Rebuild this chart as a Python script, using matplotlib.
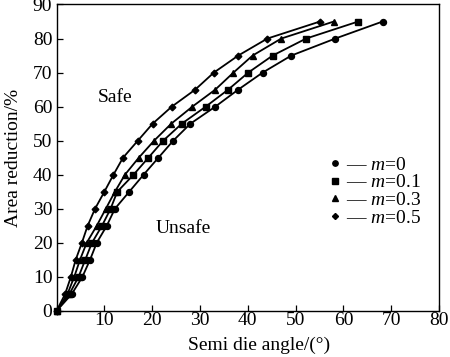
import matplotlib
matplotlib.use("Agg")
import matplotlib.pyplot as plt
from matplotlib.lines import Line2D

plt.rcParams['font.family'] = ['Liberation Serif', 'DejaVu Serif']
plt.rcParams['mathtext.fontset'] = 'custom'
plt.rcParams['mathtext.rm'] = 'Liberation Serif'
plt.rcParams['mathtext.it'] = 'Liberation Serif:italic'

# Data (semi die angle in degrees vs area reduction in %)
area_reduction = [0, 5, 10, 15, 20, 25, 30, 35, 40, 45, 50, 55, 60, 65, 70, 75, 80, 85]
angle_m0 = [0, 3.2, 5.4, 7.0, 8.4, 10.5, 12.2, 15.2, 18.2, 21.3, 24.4, 28.0, 33.2, 38.0, 43.1, 49.1, 58.3, 68.2]
angle_m01 = [0, 2.7, 4.6, 6.0, 7.4, 9.5, 11.3, 12.7, 16.1, 19.2, 22.3, 26.2, 31.2, 35.9, 40.1, 45.2, 52.2, 63.1]
angle_m03 = [0, 2.3, 3.7, 4.9, 6.3, 8.4, 10.3, 12.2, 14.3, 17.2, 20.4, 24.0, 28.4, 33.2, 37.0, 41.0, 47.0, 58.0]
angle_m05 = [0, 1.8, 3.0, 4.0, 5.3, 6.5, 8.05, 10.0, 11.9, 13.9, 17.0, 20.1, 24.1, 29.0, 32.9, 38.0, 44.1, 55.1]

series_labels = ["0", "0.1", "0.3", "0.5"]
x_ticks = [0, 10, 20, 30, 40, 50, 60, 70, 80]
x_tick_labels = ["", "10", "20", "30", "40", "50", "60", "70", "80"]
y_ticks = [0, 10, 20, 30, 40, 50, 60, 70, 80, 90]

FS = 14

fig = plt.figure(figsize=(4.5, 3.57), dpi=100)
ax = fig.add_axes([0.1256, 0.1289, 0.85, 0.8585])

series = [angle_m0, angle_m01, angle_m03, angle_m05]
markers = ['o', 's', '^', 'D']
msizes = [4.3, 4.5, 4.6, 3.4]
for xs, mk, ms in zip(series, markers, msizes):
    ax.plot(xs, area_reduction, color='black', lw=1.3, marker=mk, ms=ms,
            clip_on=False, zorder=3)

ax.set_xlim(0, 80)
ax.set_ylim(0, 90)
ax.set_xticks(x_ticks)
ax.set_xticklabels(x_tick_labels)
ax.set_yticks(y_ticks)
ax.tick_params(direction='in', length=4, width=0.9, labelsize=FS, colors='black')
ax.tick_params(axis='x', pad=1)
ax.tick_params(axis='y', pad=3)
for sp in ax.spines.values():
    sp.set_linewidth(1.0)

ax.set_xlabel("Semi die angle/(°)", fontsize=FS)
ax.xaxis.set_label_coords(0.53, -0.085)
ax.set_ylabel("Area reduction/%", fontsize=FS, va='center')
ax.yaxis.set_label_coords(-0.112, 0.5)

ax.text(12.2, 62.8, "Safe", fontsize=FS, ha='center', va='center')
ax.text(26.5, 24.3, "Unsafe", fontsize=FS, ha='center', va='center')

handles = [Line2D([], [], color='black', marker=mk, ms=ms * 0.9, linestyle='none')
           for mk, ms in zip(markers, msizes)]
labels = ["— $m$=" + s for s in series_labels]
ax.legend(handles, labels, loc='upper left', bbox_to_anchor=(0.715, 0.505),
          frameon=False, fontsize=FS, handlelength=0.5, handletextpad=0.3,
          labelspacing=0.0, borderpad=0, borderaxespad=0)

fig.savefig("out.png", dpi=100)
